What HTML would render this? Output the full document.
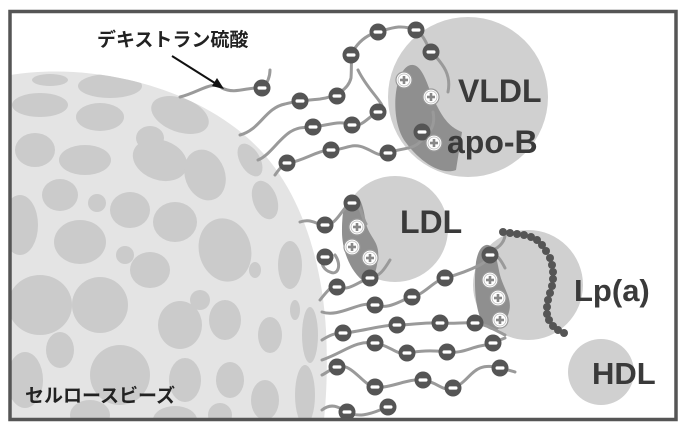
<!DOCTYPE html>
<html><head><meta charset="utf-8"><style>
html,body{margin:0;padding:0;background:#fff;}
svg{display:block;}
.t{font-family:"Liberation Sans",Arial,sans-serif;font-weight:bold;fill:#3a3a3a;}
.j{font-family:"Liberation Sans","Noto Sans CJK JP",sans-serif;font-weight:bold;fill:#222;}
.ch{fill:none;stroke:#9a9a9a;stroke-width:3;stroke-linecap:round;}
</style></head><body>
<svg width="684" height="427" viewBox="0 0 684 427" xmlns="http://www.w3.org/2000/svg">
<defs>
<g id="m"><circle r="8.5" fill="#555"/><rect x="-4.5" y="-1.6" width="9" height="3.2" rx="1.5" fill="#fff"/></g>
<g id="p"><circle r="8" fill="#fff" stroke="#999" stroke-width="1.2"/><circle r="6" fill="#fff" stroke="#bbb" stroke-width="0.8"/><rect x="-4" y="-1.3" width="8" height="2.6" fill="#888"/><rect x="-1.3" y="-4" width="2.6" height="8" fill="#888"/></g>
<clipPath id="sc"><path d="M10,75 C90,62 190,85 250,140 C300,185 322,260 326,330 C328,370 326,400 324,420 L10,420 Z"/></clipPath>
</defs>
<rect x="0" y="0" width="684" height="427" fill="#fff"/>
<path d="M10,75 C90,62 190,85 250,140 C300,185 322,260 326,330 C328,370 326,400 324,420 L10,420 Z" fill="#e4e4e4"/>
<g clip-path="url(#sc)" fill="#cbcbcb">
<ellipse cx="50" cy="80" rx="18" ry="6"/>
<ellipse cx="110" cy="86" rx="32" ry="12"/>
<ellipse cx="40" cy="105" rx="28" ry="12"/>
<ellipse cx="100" cy="117" rx="24" ry="14"/>
<ellipse cx="180" cy="115" rx="30" ry="17" transform="rotate(20 180 115)"/>
<ellipse cx="35" cy="150" rx="20" ry="17"/>
<ellipse cx="85" cy="160" rx="26" ry="15"/>
<ellipse cx="160" cy="160" rx="28" ry="20" transform="rotate(20 160 160)"/>
<ellipse cx="150" cy="138" rx="14" ry="12"/>
<ellipse cx="205" cy="175" rx="20" ry="26" transform="rotate(-20 205 175)"/>
<ellipse cx="250" cy="160" rx="10" ry="18" transform="rotate(-30 250 160)"/>
<ellipse cx="60" cy="195" rx="18" ry="16"/>
<ellipse cx="97" cy="203" rx="9" ry="9"/>
<ellipse cx="130" cy="210" rx="20" ry="18"/>
<ellipse cx="175" cy="222" rx="22" ry="20"/>
<ellipse cx="265" cy="200" rx="12" ry="20" transform="rotate(-20 265 200)"/>
<ellipse cx="20" cy="225" rx="18" ry="30"/>
<ellipse cx="80" cy="242" rx="26" ry="22"/>
<ellipse cx="125" cy="255" rx="9" ry="9"/>
<ellipse cx="150" cy="270" rx="20" ry="18"/>
<ellipse cx="225" cy="250" rx="26" ry="32" transform="rotate(-15 225 250)"/>
<ellipse cx="255" cy="270" rx="6" ry="8"/>
<ellipse cx="290" cy="265" rx="12" ry="24"/>
<ellipse cx="40" cy="305" rx="32" ry="30"/>
<ellipse cx="100" cy="305" rx="28" ry="28"/>
<ellipse cx="200" cy="300" rx="10" ry="10"/>
<ellipse cx="180" cy="325" rx="22" ry="24"/>
<ellipse cx="225" cy="320" rx="16" ry="20"/>
<ellipse cx="270" cy="335" rx="12" ry="18"/>
<ellipse cx="295" cy="310" rx="5" ry="10"/>
<ellipse cx="310" cy="335" rx="8" ry="28"/>
<ellipse cx="60" cy="350" rx="14" ry="18"/>
<ellipse cx="120" cy="375" rx="30" ry="30"/>
<ellipse cx="25" cy="380" rx="18" ry="28"/>
<ellipse cx="185" cy="380" rx="16" ry="22"/>
<ellipse cx="230" cy="380" rx="14" ry="18"/>
<ellipse cx="265" cy="400" rx="14" ry="20"/>
<ellipse cx="305" cy="395" rx="10" ry="30"/>
<ellipse cx="90" cy="415" rx="20" ry="15"/>
<ellipse cx="175" cy="420" rx="22" ry="14"/>
<ellipse cx="220" cy="415" rx="12" ry="12"/>
</g>
<circle cx="468" cy="97" r="80" fill="#d0d0d0"/>
<circle cx="395" cy="229" r="53" fill="#d0d0d0"/>
<circle cx="528" cy="285" r="55" fill="#d0d0d0"/>
<circle cx="601" cy="372" r="33" fill="#d0d0d0"/>
<path d="M408,66 C420,60 426,80 432,96 C440,112 446,126 462,132 L456,170 C440,176 418,160 404,140 C390,118 394,74 408,66 Z" fill="#8f8f8f"/>
<path d="M350,195 C362,192 364,212 366,224 C370,238 380,242 378,258 C376,275 372,285 362,280 C350,270 342,250 342,232 C342,214 344,198 350,195 Z" fill="#8f8f8f"/>
<path d="M486,245 C495,243 497,262 500,275 C504,290 514,300 508,315 C502,330 494,335 484,325 C474,310 474,280 476,262 C478,250 482,246 486,245 Z" fill="#8f8f8f"/>
<path class="ch" d="M180,97 C200,92 212,80 222,88 C235,95 250,86 262,88 C268,84 270,75 270,70"/>
<path class="ch" d="M240,135 C260,130 265,108 285,104 C295,101 310,100 320,99 C335,97 348,90 351,78 C352,65 350,55 355,48 C362,38 370,34 378,32 C392,28 400,24 416,30 C425,36 426,45 432,52 C440,62 452,72 448,92"/>
<path class="ch" d="M258,160 C270,155 278,140 290,132 C300,126 305,128 313,127 C330,125 340,120 352,125 C362,128 370,115 378,112 C392,108 370,95 358,70"/>
<path class="ch" d="M275,175 C282,165 285,163 289,163 C305,160 318,150 331,150 C345,150 352,142 365,148 C375,152 380,158 388,153 C400,148 412,150 420,142 C430,132 436,126 433,112"/>
<path class="ch" d="M300,222 C312,218 316,225 325,225 C338,225 342,206 352,203 C360,200 362,218 366,224"/>
<path class="ch" d="M332,258 C320,250 318,268 330,272 C338,276 342,265 335,255"/>
<path class="ch" d="M320,300 C328,290 332,285 337,287 C350,292 360,280 370,278 C380,276 384,270 390,260"/>
<path class="ch" d="M322,312 C340,318 360,300 375,305 C390,310 400,300 412,297 C425,294 432,282 445,278 C460,274 470,270 480,265 C486,262 488,258 490,255 C495,250 502,262 505,268"/>
<path class="ch" d="M322,340 C330,335 335,333 343,333 C360,332 380,325 397,325 C412,325 425,322 440,323 C455,324 465,322 475,323 C485,324 495,330 505,335"/>
<path class="ch" d="M322,360 C345,352 355,340 375,343 C392,346 395,355 407,353 C420,351 430,350 447,352 C460,354 470,348 480,346 C488,345 492,343 505,338"/>
<path class="ch" d="M322,375 C328,372 332,368 337,367 C352,362 362,385 375,387 C390,389 408,378 423,380 C438,382 442,392 453,388 C465,384 470,372 480,368 C490,364 500,368 515,372"/>
<path class="ch" d="M322,410 C332,402 340,408 347,412 C358,418 370,414 380,410 C385,408 388,407 392,405"/>
<path class="ch" d="M492,250 C500,248 506,240 505,232"/>
<line x1="172" y1="56" x2="218" y2="85" stroke="#111" stroke-width="2"/>
<path d="M224,89 L212,86 L217,78 Z" fill="#111"/>
<g fill="#555">
<circle cx="503" cy="232" r="4"/><circle cx="510" cy="233" r="4"/><circle cx="517" cy="234" r="4"/><circle cx="524" cy="235" r="4"/><circle cx="531" cy="237" r="4"/><circle cx="537" cy="240" r="4"/><circle cx="542" cy="245" r="4"/><circle cx="546" cy="251" r="4"/><circle cx="550" cy="258" r="4"/><circle cx="552" cy="265" r="4"/><circle cx="553" cy="272" r="4"/><circle cx="553" cy="279" r="4"/><circle cx="552" cy="286" r="4"/><circle cx="550" cy="293" r="4"/><circle cx="548" cy="300" r="4"/><circle cx="547" cy="307" r="4"/><circle cx="547" cy="314" r="4"/><circle cx="549" cy="320" r="4"/><circle cx="553" cy="326" r="4"/><circle cx="558" cy="330" r="4"/><circle cx="564" cy="333" r="4"/>
</g>
<use href="#m" x="262" y="88"/><use href="#m" x="300" y="101"/><use href="#m" x="337" y="96"/><use href="#m" x="351" y="55"/><use href="#m" x="378" y="32"/><use href="#m" x="416" y="30"/><use href="#m" x="431" y="52"/>
<use href="#m" x="313" y="127"/><use href="#m" x="352" y="125"/><use href="#m" x="378" y="112"/><use href="#m" x="287" y="163"/><use href="#m" x="331" y="150"/><use href="#m" x="388" y="153"/><use href="#m" x="422" y="132"/>
<use href="#m" x="352" y="203"/><use href="#m" x="325" y="225"/><use href="#m" x="325" y="257"/><use href="#m" x="337" y="287"/><use href="#m" x="370" y="278"/><use href="#m" x="375" y="305"/><use href="#m" x="412" y="297"/><use href="#m" x="445" y="278"/><use href="#m" x="490" y="255"/>
<use href="#m" x="343" y="333"/><use href="#m" x="397" y="325"/><use href="#m" x="440" y="323"/><use href="#m" x="475" y="323"/><use href="#m" x="375" y="343"/><use href="#m" x="407" y="353"/><use href="#m" x="447" y="352"/><use href="#m" x="493" y="343"/>
<use href="#m" x="337" y="367"/><use href="#m" x="375" y="387"/><use href="#m" x="423" y="380"/><use href="#m" x="453" y="388"/><use href="#m" x="500" y="368"/><use href="#m" x="347" y="412"/><use href="#m" x="388" y="407"/>
<use href="#p" x="404" y="80"/><use href="#p" x="431" y="97"/><use href="#p" x="434" y="143"/>
<use href="#p" x="357" y="227"/><use href="#p" x="352" y="247"/><use href="#p" x="370" y="258"/>
<use href="#p" x="490" y="280"/><use href="#p" x="498" y="298"/><use href="#p" x="500" y="320"/>
<text class="t" x="458" y="102" font-size="32">VLDL</text>
<text class="t" x="447" y="153" font-size="32">apo-B</text>
<text class="t" x="400" y="233" font-size="32">LDL</text>
<text class="t" x="574" y="301" font-size="31">Lp(a)</text>
<text class="t" x="592" y="384" font-size="31">HDL</text>
<text class="j" x="97" y="46" font-size="19">デキストラン硫酸</text>
<text class="j" x="25" y="402" font-size="19">セルロースビーズ</text>
<rect x="10" y="11.5" width="666" height="408" fill="none" stroke="#555" stroke-width="3.5"/>
</svg>
</body></html>
